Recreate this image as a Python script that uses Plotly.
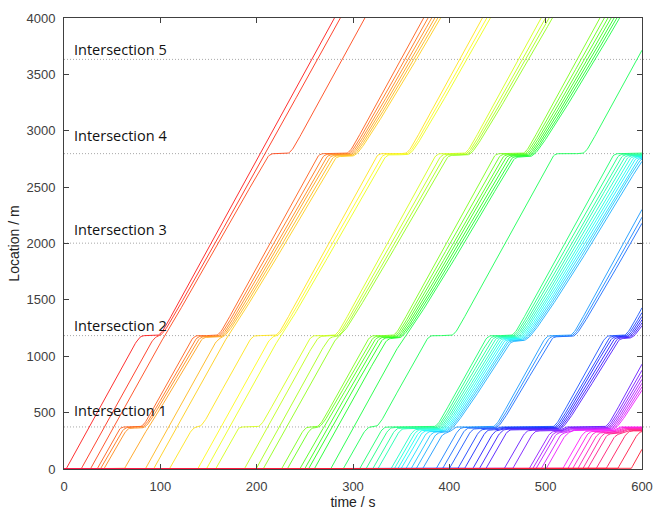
import colorsys
import numpy as np
import plotly.graph_objects as go

# ---------------- data ----------------
# vehicle entry times at location 0 (s)
entry_times = [2.3, 18, 27.5,
               34.5, 38, 41.5, 62.8, 84.6, 93.2,
               109.5, 139, 148, 157.5,
               187.3, 199.5, 207,
               226, 232, 245, 250, 254, 260, 277, 290,
               307, 313.6, 320.5, 326,
               339.6, 343, 346.5, 350, 355, 360.3, 365.5, 372.4,
               386.3, 393,
               400, 408.7, 415.7, 424.3, 431.2, 438,
               457, 465.8,
               483, 486.6, 490, 495.3, 500.5,
               517.7, 523, 528, 533.3, 538.5, 543.6,
               552.4, 562.7, 574.8, 588.7]

intersection_names = ["Intersection 1", "Intersection 2", "Intersection 3",
                      "Intersection 4", "Intersection 5"]
intersection_pos = [373, 1183, 2003, 2797, 3633]          # m
label_y = [520, 1275, 2126, 2959, 3717]                   # m (label centre)

# red phases (start, end) in s at each intersection
red_int1 = [(56, 78), (118, 139), (179, 200), (240, 261), (300, 322),
            (328, 383), (405, 444), (451, 506), (519, 560), (574, 628)]
red_int2 = [(66, 96), (127, 157), (188, 218), (249, 279), (310, 340),
            (371, 401), (432, 463), (494, 524), (553, 580)]
red_int3 = []
red_int4 = [(208, 231), (262, 292), (323, 353), (384, 414), (445, 475),
            (506, 537), (568, 598)]
red_int5 = []
red_phases = [red_int1, red_int2, red_int3, red_int4, red_int5]

x_ticks = [0, 100, 200, 300, 400, 500, 600]
y_ticks = [0, 500, 1000, 1500, 2000, 2500, 3000, 3500, 4000]

# ---------------- simple car-following (IDM) run ----------------
V0, A, B, T_HW, S0, LEN = 15.6, 2.0, 2.5, 1.2, 1.5, 3.5
DT, T_END = 0.2, 600.0
SQ = 2.0 * np.sqrt(A * B)


def idm(v, s, dv):
    s = max(s, 0.1)
    s_star = S0 + max(0.0, v * T_HW + v * dv / SQ)
    return A * (1.0 - (v / V0) ** 4 - (s_star / s) ** 2)


def is_red(k, t):
    return any(a <= t < b for a, b in red_phases[k])


N = len(entry_times)
x = np.zeros(N)
v = np.zeros(N)
state = np.zeros(N, int)          # 0 waiting, 1 driving, 2 gone
traj_t = [[0.0] for _ in range(N)]
traj_x = [[0.0] for _ in range(N)]
steps = int(round(T_END / DT))
for k in range(steps + 1):
    t = k * DT
    for i in range(N):
        if state[i] == 0 and t >= entry_times[i]:
            state[i] = 1
            x[i] = 0.0
            v[i] = V0
            traj_t[i].append(entry_times[i])
            traj_x[i].append(0.0)
    acc = np.zeros(N)
    for i in range(N):
        if state[i] != 1:
            continue
        a_i = A * (1.0 - (v[i] / V0) ** 4)
        j = i - 1
        while j >= 0 and state[j] == 0:
            j -= 1
        if j >= 0 and state[j] == 1:
            a_i = min(a_i, idm(v[i], x[j] - x[i] - LEN, v[i] - v[j]))
        for m, p in enumerate(intersection_pos):
            if x[i] < p + 0.5:
                if is_red(m, t):
                    d = p - x[i]
                    if d >= v[i] * v[i] / 12.0 - 0.5:
                        a_i = min(a_i, idm(v[i], d + S0, v[i]))
                break
        acc[i] = max(a_i, -9.0)
    for i in range(N):
        if state[i] != 1:
            continue
        dx = v[i] * DT + 0.5 * acc[i] * DT * DT
        x[i] += max(dx, 0.0)
        v[i] = max(v[i] + acc[i] * DT, 0.0)
        if k % 5 == 0:
            traj_t[i].append(t)
            traj_x[i].append(float(x[i]))
        if x[i] > 4060:
            traj_t[i].append(t)
            traj_x[i].append(float(x[i]))
            state[i] = 2
for i in range(N):
    if state[i] == 0:
        traj_t[i].append(T_END)
        traj_x[i].append(0.0)

# ---------------- figure ----------------
fig = go.Figure()
for i in range(N):
    r, g, b = colorsys.hsv_to_rgb(i / N, 0.9, 1.0)
    col = f"rgb({int(r*255)},{int(g*255)},{int(b*255)})"
    fig.add_trace(go.Scatter(x=traj_t[i], y=traj_x[i], mode="lines",
                             line=dict(color=col, width=0.9),
                             hoverinfo="skip", showlegend=False))

for p in intersection_pos:
    fig.add_shape(type="line", xref="paper", yref="y", x0=0, x1=1.015,
                  y0=p, y1=p, line=dict(color="#a8a8a8", width=1, dash="1px,2px"),
                  layer="below")
for name, yy in zip(intersection_names, label_y):
    fig.add_annotation(x=8, y=yy, xref="x", yref="y", text=name,
                       showarrow=False, xanchor="left", yanchor="middle",
                       font=dict(family="Open Sans", size=14.5, color="#111111"))

axis_font = dict(family="Liberation Sans, Arial", size=13, color="#404040")
fig.update_xaxes(range=[0, 600], tickvals=x_ticks, ticks="inside", ticklen=5,
                 tickcolor="#404040", showline=True, linecolor="#404040",
                 linewidth=1, mirror="ticks", showgrid=False, zeroline=False,
                 tickfont=axis_font, ticklabelstandoff=5,
                 title=dict(text="time / s", standoff=2,
                            font=dict(family="Liberation Sans, Arial", size=14,
                                      color="#222222")))
fig.update_yaxes(range=[0, 4000], tickvals=y_ticks, ticks="inside", ticklen=5,
                 tickcolor="#404040", showline=True, linecolor="#404040",
                 linewidth=1, mirror="ticks", showgrid=False, zeroline=False,
                 tickfont=axis_font, ticklabelstandoff=5,
                 title=dict(text="Location / m", standoff=3,
                            font=dict(family="Liberation Sans, Arial", size=14,
                                      color="#222222")))
fig.update_layout(width=654, height=510,
                  margin=dict(l=64, r=12, t=18, b=41, autoexpand=False),
                  plot_bgcolor="white", paper_bgcolor="white",
                  showlegend=False)
fig.write_html("out.html", config={"displayModeBar": False},
               post_script="document.body.style.margin='0px';"
                           "document.body.style.overflow='hidden';")
